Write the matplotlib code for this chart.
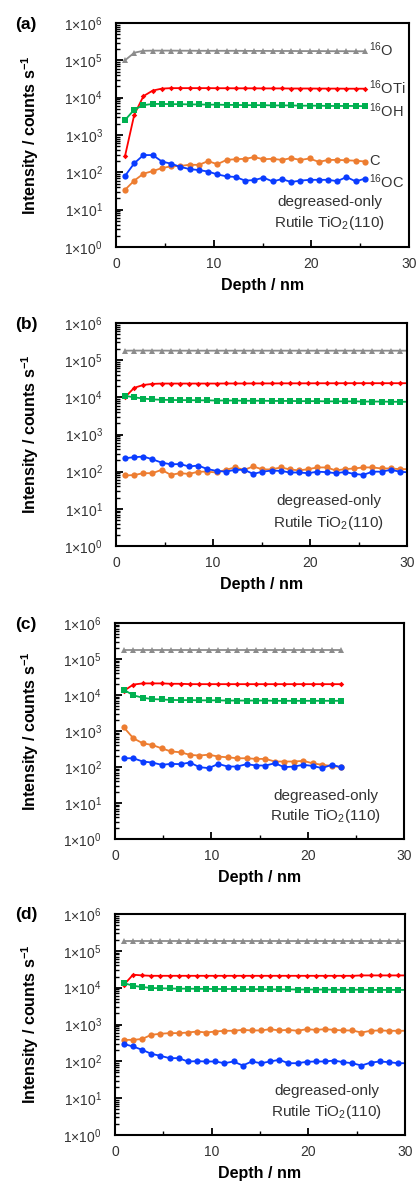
import math
import matplotlib
matplotlib.use("Agg")
import matplotlib.pyplot as plt
from matplotlib.ticker import LogLocator, FixedLocator, FuncFormatter, NullFormatter

plt.rcParams['font.family'] = ['Liberation Sans', 'DejaVu Sans']
plt.rcParams['mathtext.fontset'] = 'custom'
plt.rcParams['mathtext.rm'] = 'Liberation Sans'
plt.rcParams['mathtext.it'] = 'Liberation Sans:italic'
plt.rcParams['mathtext.bf'] = 'Liberation Sans:bold'

# depth grids (nm)
depth_a = [0.92, 1.87, 2.81, 3.76, 4.70, 5.65, 6.59, 7.54, 8.48, 9.43, 10.37, 11.32, 12.26, 13.21,
           14.15, 15.10, 16.04, 16.99, 17.93, 18.88, 19.82, 20.77, 21.71, 22.66, 23.60, 24.55, 25.49]
depth_b = [0.92, 1.87, 2.81, 3.76, 4.70, 5.65, 6.59, 7.54, 8.48, 9.43, 10.37, 11.32, 12.26, 13.21,
           14.15, 15.10, 16.04, 16.99, 17.93, 18.88, 19.82, 20.77, 21.71, 22.66, 23.60, 24.55, 25.49,
           26.44, 27.38, 28.33, 29.27, 30.22]
depth_c = [0.92, 1.90, 2.88, 3.86, 4.84, 5.82, 6.80, 7.78, 8.76, 9.74, 10.72, 11.70, 12.68, 13.66,
           14.64, 15.62, 16.60, 17.58, 18.56, 19.54, 20.52, 21.50, 22.48, 23.46]
depth_d = depth_b

# panel (a)
o_a = [1.0e5, 1.6e5, 1.8e5, 1.82e5, 1.82e5, 1.82e5, 1.81e5, 1.81e5, 1.8e5, 1.8e5, 1.8e5, 1.8e5,
       1.8e5, 1.79e5, 1.79e5, 1.79e5, 1.78e5, 1.78e5, 1.78e5, 1.77e5, 1.77e5, 1.77e5, 1.76e5,
       1.76e5, 1.76e5, 1.75e5, 1.75e5]
oti_a = [270, 3.5e3, 1.1e4, 1.55e4, 1.75e4, 1.8e4, 1.8e4, 1.8e4, 1.8e4, 1.8e4, 1.79e4, 1.79e4,
         1.78e4, 1.78e4, 1.78e4, 1.77e4, 1.77e4, 1.77e4, 1.76e4, 1.76e4, 1.76e4, 1.75e4, 1.75e4,
         1.75e4, 1.74e4, 1.74e4, 1.74e4]
oh_a = [2.5e3, 4.8e3, 6.3e3, 6.8e3, 6.8e3, 6.7e3, 6.7e3, 6.6e3, 6.6e3, 6.5e3, 6.5e3, 6.4e3, 6.4e3,
        6.3e3, 6.3e3, 6.3e3, 6.2e3, 6.2e3, 6.2e3, 6.1e3, 6.1e3, 6.1e3, 6.0e3, 6.0e3, 6.0e3, 6.0e3,
        5.9e3]
c_a = [34, 60, 92, 108, 130, 145, 148, 160, 158, 200, 165, 215, 225, 230, 255, 225, 230, 215, 240,
       215, 235, 190, 215, 215, 210, 205, 195]
oc_a = [80, 175, 290, 290, 195, 170, 140, 122, 115, 105, 88, 78, 75, 60, 62, 72, 57, 66, 55, 60, 63,
        63, 63, 58, 75, 57, 68]

# panel (b)
o_b = [1.8e5, 1.81e5, 1.81e5, 1.81e5, 1.81e5, 1.8e5, 1.8e5, 1.8e5, 1.8e5, 1.8e5, 1.8e5, 1.8e5,
       1.8e5, 1.8e5, 1.8e5, 1.8e5, 1.8e5, 1.8e5, 1.8e5, 1.8e5, 1.8e5, 1.8e5, 1.8e5, 1.8e5, 1.8e5,
       1.8e5, 1.8e5, 1.8e5, 1.8e5, 1.8e5, 1.8e5, 1.8e5]
oti_b = [1.0e4, 1.8e4, 2.15e4, 2.3e4, 2.35e4, 2.35e4, 2.35e4, 2.35e4, 2.35e4, 2.35e4, 2.35e4,
         2.36e4, 2.36e4, 2.36e4, 2.37e4, 2.37e4, 2.37e4, 2.38e4, 2.38e4, 2.38e4, 2.38e4, 2.39e4,
         2.39e4, 2.39e4, 2.4e4, 2.4e4, 2.4e4, 2.4e4, 2.4e4, 2.4e4, 2.4e4, 2.4e4]
oh_b = [1.1e4, 1.0e4, 9.3e3, 8.8e3, 8.6e3, 8.5e3, 8.4e3, 8.4e3, 8.3e3, 8.3e3, 8.2e3, 8.2e3, 8.2e3,
        8.1e3, 8.1e3, 8.1e3, 8.0e3, 8.0e3, 8.0e3, 7.9e3, 7.9e3, 7.9e3, 7.8e3, 7.8e3, 7.8e3, 7.8e3,
        7.7e3, 7.7e3, 7.7e3, 7.6e3, 7.6e3, 7.6e3]
c_b = [79, 81, 91, 91, 112, 82, 91, 87, 100, 100, 95, 112, 130, 112, 138, 115, 115, 130, 115, 108,
       117, 130, 130, 108, 117, 122, 130, 130, 122, 122, 117, 117]
oc_b = [230, 245, 255, 215, 175, 158, 160, 138, 146, 117, 105, 100, 112, 112, 87, 100, 107, 105, 95,
        95, 91, 100, 97, 91, 98, 87, 82, 100, 100, 112, 100, 95]

# panel (c)
o_c = [1.8e5, 1.8e5, 1.8e5, 1.8e5, 1.8e5, 1.8e5, 1.8e5, 1.8e5, 1.8e5, 1.8e5, 1.8e5, 1.8e5, 1.8e5,
       1.8e5, 1.8e5, 1.8e5, 1.8e5, 1.8e5, 1.8e5, 1.8e5, 1.8e5, 1.8e5, 1.8e5, 1.8e5]
oti_c = [1.3e4, 1.95e4, 2.1e4, 2.1e4, 2.1e4, 2.05e4, 2.05e4, 2.0e4, 2.0e4, 2.0e4, 2.0e4, 2.0e4,
         2.0e4, 2.0e4, 2.0e4, 2.0e4, 2.0e4, 2.0e4, 2.0e4, 2.0e4, 2.0e4, 2.0e4, 2.0e4, 2.0e4]
oh_c = [1.4e4, 9.8e3, 8.4e3, 7.7e3, 7.5e3, 7.3e3, 7.2e3, 7.2e3, 7.1e3, 7.1e3, 7.1e3, 7.0e3, 7.0e3,
        7.0e3, 7.0e3, 7.0e3, 6.9e3, 6.9e3, 6.9e3, 6.9e3, 6.9e3, 6.9e3, 6.9e3, 6.9e3]
c_c = [1260, 630, 455, 410, 330, 270, 257, 217, 208, 220, 195, 186, 175, 175, 168, 168, 142, 142,
       142, 148, 127, 115, 107, 99]
oc_c = [175, 175, 142, 133, 115, 122, 120, 133, 99, 93, 122, 103, 103, 120, 110, 110, 127, 99, 103,
        115, 107, 93, 115, 99]

# panel (d)
o_d = [1.8e5, 1.8e5, 1.8e5, 1.8e5, 1.8e5, 1.8e5, 1.8e5, 1.8e5, 1.8e5, 1.8e5, 1.8e5, 1.8e5, 1.8e5,
       1.8e5, 1.8e5, 1.8e5, 1.8e5, 1.8e5, 1.8e5, 1.8e5, 1.8e5, 1.8e5, 1.8e5, 1.8e5, 1.8e5, 1.8e5,
       1.8e5, 1.8e5, 1.8e5, 1.8e5, 1.8e5, 1.8e5]
oti_d = [1.2e4, 2.25e4, 2.15e4, 2.1e4, 2.1e4, 2.1e4, 2.1e4, 2.1e4, 2.1e4, 2.1e4, 2.1e4, 2.1e4,
         2.1e4, 2.1e4, 2.1e4, 2.1e4, 2.1e4, 2.1e4, 2.1e4, 2.1e4, 2.1e4, 2.1e4, 2.1e4, 2.1e4,
         2.1e4, 2.1e4, 2.15e4, 2.15e4, 2.15e4, 2.15e4, 2.15e4, 2.15e4]
oh_d = [1.33e4, 1.13e4, 1.04e4, 9.8e3, 9.6e3, 9.5e3, 9.4e3, 9.4e3, 9.3e3, 9.3e3, 9.2e3, 9.2e3,
        9.2e3, 9.1e3, 9.1e3, 9.1e3, 9.0e3, 9.0e3, 9.0e3, 8.9e3, 8.9e3, 8.9e3, 8.9e3, 8.8e3, 8.8e3,
        8.8e3, 8.8e3, 8.7e3, 8.7e3, 8.7e3, 8.7e3, 8.7e3]
c_d = [383, 383, 405, 525, 560, 583, 583, 605, 645, 605, 645, 675, 675, 715, 690, 690, 745, 690, 715,
       675, 745, 715, 745, 715, 690, 690, 605, 675, 690, 675, 675, 675]
oc_d = [295, 253, 205, 160, 141, 122, 122, 99, 101, 99, 99, 89, 99, 77, 99, 89, 99, 110, 89, 89, 97,
        99, 99, 105, 95, 89, 77, 92, 99, 95, 89, 89]

panel_names = ['(a)', '(b)', '(c)', '(d)']
series_names = ['$^{16}$O', '$^{16}$OTi', '$^{16}$OH', 'C', '$^{16}$OC']
label_y_a = [1.9e5, 1.8e4, 4.4e3, 200, 55]

panels = [
    (depth_a, [o_a, oti_a, oh_a, c_a, oc_a]),
    (depth_b, [o_b, oti_b, oh_b, c_b, oc_b]),
    (depth_c, [o_c, oti_c, oh_c, c_c, oc_c]),
    (depth_d, [o_d, oti_d, oh_d, c_d, oc_d]),
]

colors = ['#8c8c8c', '#ff0000', '#00b050', '#ed7d31', '#0a3cff']
markers = ['^', 'D', 's', 'o', 'o']
msizes = [4.0, 2.8, 4.5, 4.5, 4.5]

# axes boxes in figure pixels: left, right, top, bottom
W, H = 416, 1185
boxes = [(116, 409, 23, 247), (116, 407, 323, 546), (115, 404, 623, 839), (115, 405, 914, 1135)]

fig = plt.figure(figsize=(W / 100, H / 100), dpi=100)


def sci_label(v, pos):
    return '1\u00d710$^{%d}$' % round(math.log10(v))


for i, (box, (depth, series)) in enumerate(zip(boxes, panels)):
    l, r, t, b = box
    ax = fig.add_axes([l / W, 1 - b / H, (r - l) / W, (b - t) / H])
    for vals, col, mk, ms in zip(series, colors, markers, msizes):
        ax.plot(depth, vals, color=col, marker=mk, markersize=ms, linewidth=1.3,
                markeredgewidth=0)
    ax.set_yscale('log')
    ax.set_ylim(1, 1e6)
    ax.set_xlim(0, 30)
    ax.yaxis.set_major_locator(FixedLocator([1, 10, 100, 1e3, 1e4, 1e5, 1e6]))
    ax.yaxis.set_major_formatter(FuncFormatter(sci_label))
    ax.yaxis.set_minor_locator(LogLocator(base=10, subs=range(2, 10), numticks=20))
    ax.yaxis.set_minor_formatter(NullFormatter())
    ax.xaxis.set_major_locator(FixedLocator([0, 10, 20, 30]))
    ax.xaxis.set_minor_locator(FixedLocator([5, 15, 25]))
    ax.tick_params(axis='both', which='major', direction='in', length=5, width=1.3,
                   labelsize=10, labelcolor='#333333')
    ax.tick_params(axis='both', which='minor', direction='in', length=3, width=1.0)
    ax.tick_params(axis='y', which='major', pad=9.5)
    ax.tick_params(axis='x', which='major', pad=7)
    for sp in ax.spines.values():
        sp.set_linewidth(1.5)
    ax.set_xlabel('Depth / nm', fontsize=11.5, fontweight='bold')
    ax.xaxis.set_label_coords(0.5, -31 / (b - t))
    ax.set_ylabel('Intensity / counts s$^{\\mathbf{-1}}$', fontsize=11.5, fontweight='bold')
    ax.yaxis.set_label_coords((41 - l) / (r - l), 0.5)
    ax.text(0.73, 0.2, 'degreased-only', transform=ax.transAxes, ha='center', va='center',
            fontsize=11, color='#333333')
    ax.text(0.73, 0.105, 'Rutile TiO$_{2}$(110)', transform=ax.transAxes, ha='center',
            va='center', fontsize=11, color='#333333')
    fig.text(26 / W, 1 - (t + 1) / H, panel_names[i], fontsize=12.5, fontweight='bold',
             ha='center', va='center')
    if i == 0:
        for name, yv in zip(series_names, label_y_a):
            ax.text(25.95, yv, name, fontsize=10.5, color='#333333', ha='left', va='center')

fig.savefig('out.png', dpi=100)
